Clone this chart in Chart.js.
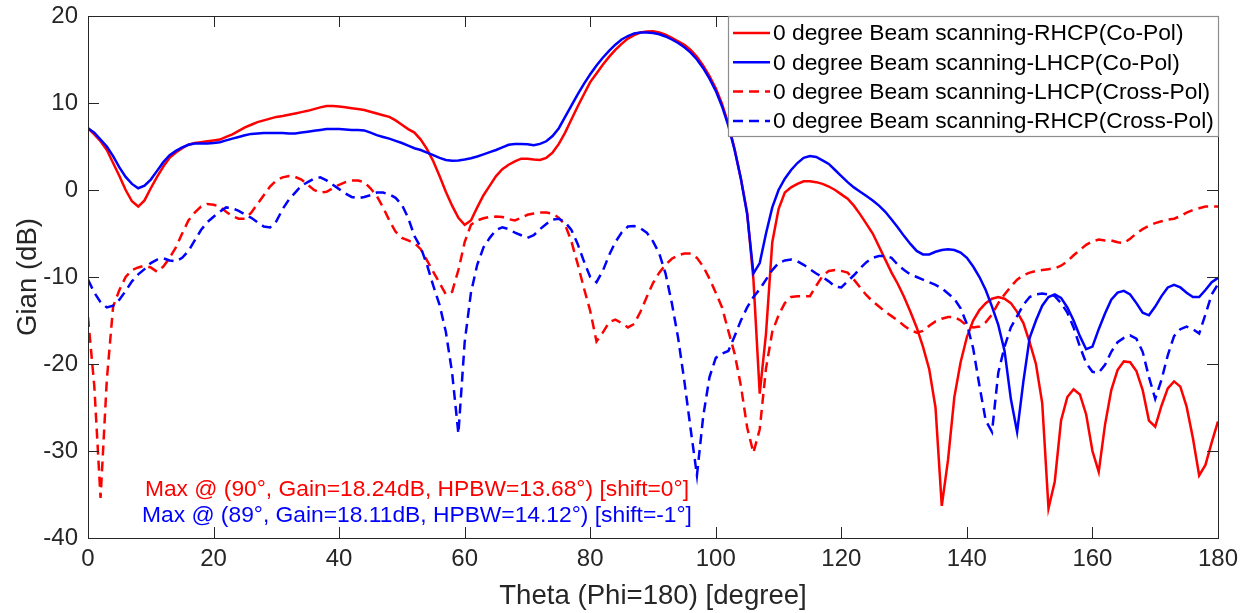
<!DOCTYPE html>
<html>
<head>
<meta charset="utf-8">
<script src="https://cdn.jsdelivr.net/npm/chart.js@4.4.1/dist/chart.umd.min.js"></script>
<style>
  html, body { margin: 0; padding: 0; background: #ffffff; }
  #wrap { width: 1248px; height: 613px; }
</style>
</head>
<body>
<div id="wrap"><canvas id="c" width="1248" height="613"></canvas></div>
<script>
// Theta sweep (Phi = 180), 1 degree step
const theta = Array.from({ length: 181 }, (_, i) => i);

// Gain in dB for each theta
const rhcpCo = [
  7.1, 6.4, 5.6, 4.6, 3.1, 1.6, 0.0, -1.3, -1.9, -1.2,
  0.2, 1.5, 2.7, 3.7, 4.3, 4.8, 5.2, 5.4, 5.5, 5.6,
  5.7, 5.8, 6.1, 6.4, 6.8, 7.2, 7.5, 7.8, 8.0, 8.2,
  8.4, 8.5, 8.65, 8.8, 8.95, 9.1, 9.3, 9.5, 9.65, 9.65,
  9.6, 9.5, 9.4, 9.3, 9.2, 9.0, 8.8, 8.6, 8.4, 8.0,
  7.5, 7.0, 6.6, 5.8, 4.7, 3.3, 1.6, -0.2, -1.8, -3.2,
  -4.0, -3.5, -2.0, -0.6, 0.5, 1.6, 2.4, 2.9, 3.3, 3.6,
  3.6, 3.5, 3.45, 3.7, 4.3, 5.3, 6.6, 8.1, 9.6, 11.0,
  12.4, 13.4, 14.4, 15.3, 16.1, 16.8, 17.4, 17.8, 18.1, 18.22,
  18.24, 18.1, 17.85, 17.5, 17.1, 16.7, 16.1, 15.3, 14.3, 13.1,
  11.7, 9.9, 7.6, 4.7, 1.3, -2.6, -10.3, -23.4, -16.5, -6.0,
  -2.2, -0.3, 0.3, 0.7, 1.0, 1.0, 0.9, 0.7, 0.4, 0.0,
  -0.5, -1.0, -1.8, -2.8, -3.9, -5.0, -6.5, -8.0, -9.5, -10.8,
  -12.3, -14.0, -15.8, -18.0, -20.6, -25.0, -36.3, -31.0, -23.8, -19.8,
  -16.9, -15.0, -13.8, -13.0, -12.5, -12.3, -12.5, -13.0, -14.0, -15.3,
  -17.5, -20.0, -24.5, -36.6, -33.5, -26.5, -23.8, -22.9, -23.5, -25.8,
  -30.0, -32.4, -27.0, -23.0, -20.7, -19.7, -19.8, -20.8, -23.0, -26.5,
  -27.2, -24.8, -22.8, -22.0, -22.6, -24.9, -28.5, -32.8, -31.6, -29.0,
  -26.6
];

const lhcpCo = [
  7.1, 6.6, 5.8, 5.0, 3.9, 2.6, 1.5, 0.7, 0.2, 0.5,
  1.2, 2.2, 3.2, 4.0, 4.5, 4.9, 5.2, 5.35, 5.35, 5.35,
  5.4, 5.5, 5.7, 5.9, 6.1, 6.3, 6.45, 6.5, 6.55, 6.55,
  6.55, 6.55, 6.5, 6.5, 6.6, 6.7, 6.8, 6.9, 7.0, 7.0,
  7.0, 6.95, 6.9, 6.9, 6.85, 6.6, 6.3, 6.1, 5.9, 5.65,
  5.4, 5.1, 4.8, 4.6, 4.3, 4.0, 3.7, 3.45, 3.35, 3.4,
  3.5, 3.65, 3.85, 4.1, 4.35, 4.6, 4.9, 5.2, 5.3, 5.3,
  5.25, 5.15, 5.3, 5.6, 6.2, 7.1, 8.4, 9.7, 11.0, 12.2,
  13.3, 14.3, 15.2, 16.0, 16.7, 17.3, 17.7, 18.0, 18.1, 18.11,
  18.05, 17.9, 17.65, 17.3, 16.9, 16.4, 15.8, 15.0, 14.0, 12.8,
  11.4, 9.6, 7.4, 4.6, 1.3, -2.8, -9.6, -8.4, -5.0, -2.0,
  0.0, 1.3, 2.3, 3.1, 3.7, 3.9, 3.8, 3.4, 3.0, 2.3,
  1.6, 0.9, 0.3, -0.2, -0.7, -1.2, -1.8, -2.5, -3.4, -4.3,
  -5.3, -6.2, -7.0, -7.4, -7.4, -7.1, -6.9, -6.8, -6.9, -7.2,
  -7.8, -8.8, -10.0, -11.5, -13.4, -15.5, -18.5, -24.0, -27.8, -22.0,
  -17.0, -15.0, -13.3, -12.3, -12.0, -12.4, -13.5, -15.0, -16.8, -18.3,
  -18.0, -16.0, -14.2, -12.6, -11.8, -11.6, -12.0, -13.0, -14.1, -14.4,
  -13.4, -12.2, -11.2, -10.9, -11.2, -11.8, -12.3, -12.3, -11.5, -10.6,
  -10.1
];

const lhcpCross = [
  -14.6, -22.5, -35.4, -21.8, -13.4, -11.5, -10.0, -9.2, -8.9, -8.7,
  -8.9, -9.4, -8.8, -7.8, -6.6, -5.0, -3.5, -2.6, -1.9, -1.6,
  -1.7, -1.9, -2.5, -3.0, -3.3, -3.3, -2.6, -1.6, -0.6, 0.4,
  1.1, 1.45, 1.6, 1.5, 1.2, 0.6, 0.0, -0.3, -0.2, 0.2,
  0.6, 0.9, 1.1, 1.1, 0.9, 0.2, -0.7, -2.0, -3.5, -4.8,
  -5.5, -5.8, -6.1, -6.8, -8.1, -9.4, -10.7, -12.0, -11.7, -9.2,
  -6.0, -4.0, -3.5, -3.25, -3.1, -3.05, -3.1, -3.35, -3.5, -3.2,
  -2.85, -2.7, -2.6, -2.6, -2.7, -3.2, -4.0, -5.9, -8.5, -11.3,
  -13.9, -17.4, -16.4, -15.2, -14.9, -15.3, -15.8, -15.4, -14.0, -12.3,
  -10.7, -9.5, -8.6, -7.9, -7.5, -7.3, -7.3, -7.8, -8.8, -10.2,
  -11.8, -13.5, -16.2, -18.8, -22.5, -27.3, -30.2, -27.5, -20.5, -16.3,
  -14.4, -13.0, -12.3, -12.2, -12.2, -12.2, -11.0, -9.9, -9.3, -9.2,
  -9.3, -9.5, -10.3, -11.2, -12.1, -12.8, -13.4, -14.0, -14.5, -15.0,
  -15.6, -16.1, -16.4, -16.2, -15.6, -15.1, -14.8, -14.6, -14.6, -15.0,
  -15.6, -15.8, -15.7, -15.2, -14.3, -13.0, -12.0, -11.1, -10.3, -9.8,
  -9.5, -9.3, -9.2, -9.1, -9.0, -8.7, -8.2, -7.5, -6.9, -6.3,
  -5.9, -5.7, -5.8, -5.8, -6.0, -6.1, -5.6, -5.0, -4.5, -4.1,
  -3.8, -3.6, -3.4, -3.3, -3.0, -2.6, -2.3, -2.1, -1.9, -1.9,
  -1.9
];

const rhcpCross = [
  -10.3, -11.8, -12.9, -13.5, -13.3, -12.6, -11.6, -10.5, -9.7, -9.1,
  -8.4, -8.0, -7.85, -8.1, -8.2, -7.8, -7.0, -5.8, -4.6, -3.7,
  -3.07, -2.5, -2.0, -2.1, -2.4, -2.8, -3.2, -3.7, -4.2, -4.3,
  -3.6, -2.2, -1.1, -0.3, 0.5, 0.9, 1.3, 1.45, 1.1, 0.6,
  0.1, -0.4, -0.8, -0.95, -0.8, -0.6, -0.3, -0.3, -0.5, -0.9,
  -1.7, -3.2, -5.3, -6.6, -8.6, -11.0, -13.2, -16.3, -21.0, -28.0,
  -17.5, -11.8, -8.6, -6.6, -5.5, -4.6, -4.3, -4.5, -4.9, -5.2,
  -5.5, -5.2, -4.5, -3.9, -3.4, -3.3, -3.7, -4.6, -6.2, -8.2,
  -10.0, -10.6, -9.3, -7.5, -6.0, -4.9, -4.2, -4.15, -4.4, -4.9,
  -5.9, -7.3, -9.6, -13.0, -17.0, -22.0, -27.5, -32.8, -26.0, -21.5,
  -19.3, -18.8, -18.5, -16.8, -15.0, -13.5, -12.3, -11.4, -10.3, -9.2,
  -8.4, -8.1, -8.0, -8.2, -8.6, -9.1, -9.6, -10.0, -10.5, -11.1,
  -11.2, -10.5, -9.8, -9.0, -8.3, -7.8, -7.6, -7.6, -7.8, -8.6,
  -9.2, -9.7, -10.0, -10.3, -10.6, -10.9, -11.3, -11.9, -12.5, -13.6,
  -15.4, -18.2, -22.5, -26.5, -27.8, -21.0, -18.0, -15.8, -14.5, -13.2,
  -12.3, -12.0, -11.9, -12.0, -12.2, -13.0, -14.1, -15.8, -18.0, -19.9,
  -20.9, -21.0, -20.1, -18.6, -17.5, -17.0, -16.7, -17.1, -18.6, -21.5,
  -24.0, -21.8, -19.0, -16.8, -16.0, -15.7, -16.0, -16.5, -14.3, -12.0,
  -10.8
];

const seriesLabels = [
  '0 degree Beam scanning-RHCP(Co-Pol)',
  '0 degree Beam scanning-LHCP(Co-Pol)',
  '0 degree Beam scanning-LHCP(Cross-Pol)',
  '0 degree Beam scanning-RHCP(Cross-Pol)'
];

// Beam summary for the two co-pol patterns
const hpbwDeg = [13.68, 14.12];
const shiftDeg = [0, -1];

// Axis ticks
const xTicks = [0, 20, 40, 60, 80, 100, 120, 140, 160, 180];
const yTicks = [-40, -30, -20, -10, 0, 10, 20];

const FONT = '"Liberation Sans", Arial, Helvetica, sans-serif';
const AXIS_COLOR = '#262626';

function pts(values) {
  return theta.map((t, i) => ({ x: t, y: values[i] }));
}

function peakText(values, k) {
  let idx = 0;
  values.forEach((v, i) => { if (v > values[idx]) idx = i; });
  return 'Max @ (' + theta[idx] + '\u00b0, Gain=' + values[idx].toFixed(2) +
    'dB, HPBW=' + hpbwDeg[k].toFixed(2) + '\u00b0) [shift=' + shiftDeg[k] + '\u00b0]';
}

const styles = [
  { color: '#ff0000', dash: [] },
  { color: '#0000ff', dash: [] },
  { color: '#ff0000', dash: [10, 6] },
  { color: '#0000ff', dash: [10, 6] }
];
const allSeries = [rhcpCo, lhcpCo, lhcpCross, rhcpCross];

const datasets = allSeries.map((s, k) => ({
  label: seriesLabels[k],
  data: pts(s),
  borderColor: styles[k].color,
  backgroundColor: styles[k].color,
  borderDash: styles[k].dash,
  borderWidth: 2.5,
  pointRadius: 0,
  tension: 0,
  fill: false,
  order: 3 - k
}));

// Box, inward ticks, legend and peak notes
const framePlugin = {
  id: 'frame',
  afterDatasetsDraw(chart) {
    const { ctx, chartArea: a, scales } = chart;
    const xs = scales.x, ys = scales.y;
    const TL = 11;
    ctx.save();
    ctx.strokeStyle = AXIS_COLOR;
    ctx.lineWidth = 1;
    ctx.beginPath();
    xTicks.forEach(v => {
      const px = Math.round(xs.getPixelForValue(v)) + 0.5;
      ctx.moveTo(px, a.bottom); ctx.lineTo(px, a.bottom - TL);
      ctx.moveTo(px, a.top); ctx.lineTo(px, a.top + TL);
    });
    yTicks.forEach(v => {
      const py = Math.round(ys.getPixelForValue(v)) + 0.5;
      ctx.moveTo(a.left, py); ctx.lineTo(a.left + TL, py);
      ctx.moveTo(a.right, py); ctx.lineTo(a.right - TL, py);
    });
    ctx.stroke();
    ctx.strokeRect(Math.round(a.left) + 0.5, Math.round(a.top) + 0.5,
      Math.round(a.right - a.left), Math.round(a.bottom - a.top));

    // legend in the upper right corner of the axes
    const lw = 490, lh = 120;
    const lx = a.right - lw, ly = a.top;
    ctx.fillStyle = '#ffffff';
    ctx.fillRect(lx, ly, lw, lh);
    ctx.strokeStyle = '#8c8c8c';
    ctx.lineWidth = 1.2;
    ctx.strokeRect(lx + 0.5, ly + 0.5, lw, lh);
    ctx.font = '22.8px ' + FONT;
    ctx.textBaseline = 'middle';
    ctx.textAlign = 'left';
    chart.data.datasets.forEach((ds, k) => {
      const cy = ly + 17 + k * 29.3;
      ctx.strokeStyle = ds.borderColor;
      ctx.lineWidth = 2.5;
      ctx.setLineDash(ds.borderDash);
      ctx.beginPath();
      ctx.moveTo(lx + 5, cy);
      ctx.lineTo(lx + 42, cy);
      ctx.stroke();
      ctx.setLineDash([]);
      ctx.fillStyle = '#000000';
      ctx.fillText(ds.label, lx + 45, cy + 1);
    });

    // peak notes
    ctx.font = '22.8px ' + FONT;
    ctx.textAlign = 'center';
    const nx = xs.getPixelForValue(52.4);
    ctx.fillStyle = '#ff0000';
    ctx.fillText(peakText(rhcpCo, 0), nx, ys.getPixelForValue(-34.5));
    ctx.fillStyle = '#0000ff';
    ctx.fillText(peakText(lhcpCo, 1), nx, ys.getPixelForValue(-37.4));
    ctx.restore();
  }
};

new Chart(document.getElementById('c'), {
  type: 'line',
  data: { datasets },
  options: {
    responsive: false,
    animation: false,
    devicePixelRatio: 1,
    layout: { padding: { top: 16, right: 30, left: 0, bottom: 0 } },
    plugins: { legend: { display: false }, tooltip: { enabled: false } },
    scales: {
      x: {
        type: 'linear',
        min: 0, max: 180,
        afterFit(scale) {
          scale.height = 75;
          scale.paddingLeft = 0; scale.paddingRight = 0;
        },
        afterBuildTicks(scale) { scale.ticks = xTicks.map(v => ({ value: v })); },
        grid: { display: false, drawTicks: false },
        border: { display: false },
        ticks: { color: AXIS_COLOR, font: { family: FONT, size: 24 }, padding: 7, maxRotation: 0 },
        title: {
          display: true,
          text: 'Theta (Phi=180) [degree]',
          color: AXIS_COLOR,
          font: { family: FONT, size: 27.6 },
          padding: { top: 0, bottom: 0 }
        }
      },
      y: {
        type: 'linear',
        min: -40, max: 20,
        afterFit(scale) {
          scale.width = 88;
          scale.paddingTop = 0; scale.paddingBottom = 0;
        },
        afterBuildTicks(scale) { scale.ticks = yTicks.map(v => ({ value: v })); },
        grid: { display: false, drawTicks: false },
        border: { display: false },
        ticks: { color: AXIS_COLOR, font: { family: FONT, size: 24 }, padding: 10 },
        title: {
          display: true,
          text: 'Gian (dB)',
          color: AXIS_COLOR,
          font: { family: FONT, size: 27.6 },
          padding: { top: 12, bottom: 0 }
        }
      }
    }
  },
  plugins: [framePlugin]
});
</script>
</body>
</html>
